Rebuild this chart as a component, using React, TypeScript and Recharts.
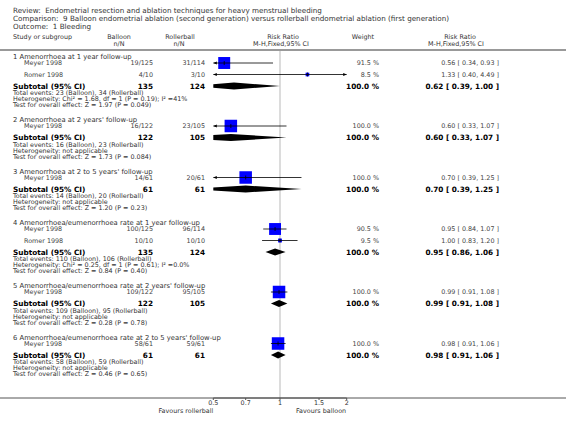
import React from "react";
import { ComposedChart, XAxis, YAxis, Line, Area, Scatter } from "recharts";

// Subgroups
const subgroupTitles = [
  "1 Amenorrhoea at 1 year follow-up",
  "2 Amenorrhoea at 2 years' follow-up",
  "3 Amenorrhoea at 2 to 5 years' follow-up",
  "4 Amenorrhoea/eumenorrhoea rate at 1 year follow-up",
  "5 Amenorrhoea/eumenorrhoea rate at 2 years' follow-up",
  "6 Amenorrhoea/eumenorrhoea rate at 2 to 5 years' follow-up",
];
const subBalloonN = [135, 122, 61, 135, 122, 61];
const subRollerN = [124, 105, 61, 124, 105, 61];
const subRR = [0.62, 0.6, 0.7, 0.95, 0.99, 0.98];
const subLow = [0.39, 0.33, 0.39, 0.86, 0.91, 0.91];
const subHigh = [1.0, 1.07, 1.25, 1.06, 1.08, 1.06];
const totalEvents = [
  "Total events: 23 (Balloon), 34 (Rollerball)",
  "Total events: 16 (Balloon), 23 (Rollerball)",
  "Total events: 14 (Balloon), 20 (Rollerball)",
  "Total events: 110 (Balloon), 106 (Rollerball)",
  "Total events: 109 (Balloon), 95 (Rollerball)",
  "Total events: 58 (Balloon), 59 (Rollerball)",
];
const heterogeneity = [
  "Heterogeneity: Chi² = 1.68, df = 1 (P = 0.19); I² =41%",
  "Heterogeneity: not applicable",
  "Heterogeneity: not applicable",
  "Heterogeneity: Chi² = 0.25, df = 1 (P = 0.61); I² =0.0%",
  "Heterogeneity: not applicable",
  "Heterogeneity: not applicable",
];
const overallEffect = [
  "Test for overall effect: Z = 1.97 (P = 0.049)",
  "Test for overall effect: Z = 1.73 (P = 0.084)",
  "Test for overall effect: Z = 1.20 (P = 0.23)",
  "Test for overall effect: Z = 0.84 (P = 0.40)",
  "Test for overall effect: Z = 0.28 (P = 0.78)",
  "Test for overall effect: Z = 0.46 (P = 0.65)",
];

// Studies
const studyGroup = [0, 0, 1, 2, 3, 3, 4, 5];
const studyNames = ["Meyer 1998", "Romer 1998", "Meyer 1998", "Meyer 1998", "Meyer 1998", "Romer 1998", "Meyer 1998", "Meyer 1998"];
const balloonEvents = ["19/125", "4/10", "16/122", "14/61", "100/125", "10/10", "109/122", "58/61"];
const rollerEvents = ["31/114", "3/10", "23/105", "20/61", "96/114", "10/10", "95/105", "59/61"];
const studyWeight = [91.5, 8.5, 100, 100, 90.5, 9.5, 100, 100];
const studyRR = [0.56, 1.33, 0.6, 0.7, 0.95, 1.0, 0.99, 0.98];
const studyLow = [0.34, 0.4, 0.33, 0.39, 0.84, 0.83, 0.91, 0.91];
const studyHigh = [0.93, 4.49, 1.07, 1.25, 1.07, 1.2, 1.08, 1.06];

const xTicks = [0.5, 0.7, 1, 1.5, 2];
const X_MIN = 0.5;
const X_MAX = 2;

// Layout
const W = 566;
const H = 429;
const AXIS_Y = 398;
const PLOT_LEFT = 213.3;
const PLOT_RIGHT = 346.7;
const FONT = "'DejaVu Sans', Verdana, sans-serif";
const FS = 6.4;
const FS_HEAD = 6.8;
const FS_TITLE = 7.2;
const FS_BOLD = 7.3;
const SQUARE_MAX = 12.5;
const DIAMOND_H = 3.5;

const COL_NAME = 13;
const COL_STUDY = 24;
const COL_BALLOON = 153;
const COL_ROLLER = 205;
const COL_WEIGHT = 379;
const COL_RR = 499;

const fmt = (v: number) => v.toFixed(2);
const ciText = (r: number, l: number, h: number) => `${fmt(r)} [ ${fmt(l)}, ${fmt(h)} ]`;

function buildLayout() {
  let y = 57;
  const groups = subgroupTitles.map((title, g) => {
    const heading = y;
    y += 6;
    const studies: number[] = [];
    studyGroup.forEach((sg, i) => {
      if (sg === g) {
        studies.push(i);
      }
    });
    const studyY = studies.map(() => {
      const sy = y;
      y += 11.5;
      return sy;
    });
    const subtotal = y;
    const total = subtotal + 7;
    const het = total + 6;
    const test = het + 6;
    y = test + 15;
    return { g, title, heading, studies, studyY, subtotal, total, het, test };
  });
  return groups;
}

const Square = (p: any) => {
  const s = SQUARE_MAX * Math.sqrt(p.payload.w / 100);
  return (
    <g>
      <rect x={p.cx - s / 2} y={p.cy - s / 2} width={s} height={s} fill="#0000ff" />
      <line x1={p.cx - s / 2} x2={p.cx + s / 2} y1={p.cy} y2={p.cy} stroke="#000" strokeWidth={0.8} />
      <line x1={p.cx} x2={p.cx} y1={p.cy - 2} y2={p.cy + 2} stroke="#000" strokeWidth={0.8} />
    </g>
  );
};

const Arrow = (p: any) => {
  const d = p.payload.dir;
  const pts = `${p.cx},${p.cy} ${p.cx - d * 3.5},${p.cy - 1.6} ${p.cx - d * 3.5},${p.cy + 1.6}`;
  return <polygon points={pts} fill="#000" />;
};

const T = (props: any) => {
  const { x, y, anchor, bold, color, size, children } = props;
  return (
    <text
      x={x}
      y={y}
      dy="0.35em"
      textAnchor={anchor || "start"}
      fontSize={size || (bold ? FS_BOLD : FS)}
      fontWeight={bold ? "bold" : "normal"}
      fill={color || (bold ? "#000" : "#333")}
      fontFamily={FONT}
    >
      {children}
    </text>
  );
};

export default function App() {
  const groups = buildLayout();
  const rowY: number[] = [];
  groups.forEach((gr) => gr.studies.forEach((i, k) => (rowY[i] = gr.studyY[k])));

  const squares = studyNames.map((_, i) => ({ x: studyRR[i], y: rowY[i], w: studyWeight[i] }));
  const arrows: { x: number; y: number; dir: number }[] = [];
  studyNames.forEach((_, i) => {
    if (studyLow[i] < X_MIN) arrows.push({ x: X_MIN, y: rowY[i], dir: -1 });
    if (studyHigh[i] > X_MAX) arrows.push({ x: X_MAX, y: rowY[i], dir: 1 });
  });

  return (
    <div style={{ position: "absolute", left: 0, top: 0, width: W, height: H, background: "#fff" }}>
      <ComposedChart width={W} height={H} margin={{ top: 0, right: W - PLOT_RIGHT, bottom: 0, left: PLOT_LEFT }}>
        <XAxis
          type="number"
          dataKey="x"
          scale="log"
          domain={[X_MIN, X_MAX]}
          allowDataOverflow
          ticks={xTicks}
          interval={0}
          height={H - AXIS_Y}
          tickSize={2}
          tickMargin={0}
          stroke="#555"
          tick={{ fontSize: FS, fill: "#333", fontFamily: FONT }}
        />
        <YAxis type="number" dataKey="y" domain={[0, AXIS_Y]} reversed hide allowDataOverflow />
        <Line
          data={[{ x: 1, y: 51 }, { x: 1, y: AXIS_Y }]}
          dataKey="y"
          stroke="#dcdcdc"
          strokeWidth={2}
          dot={false}
          isAnimationActive={false}
          zIndex={50}
        />
        {groups.map((gr) => (
          <Area
            key={`d-${gr.g}`}
            data={[
              { x: subLow[gr.g], band: [gr.subtotal, gr.subtotal] },
              { x: subRR[gr.g], band: [gr.subtotal - DIAMOND_H, gr.subtotal + DIAMOND_H] },
              { x: subHigh[gr.g], band: [gr.subtotal, gr.subtotal] },
            ]}
            dataKey="band"
            type="linear"
            stroke="none"
            fill="#000"
            fillOpacity={1}
            isAnimationActive={false}
            zIndex={100}
          />
        ))}
        {studyNames.map((_, i) => (
          <Line
            key={`ci-${i}`}
            data={[{ x: studyLow[i], y: rowY[i] }, { x: studyHigh[i], y: rowY[i] }]}
            dataKey="y"
            stroke="#000"
            strokeWidth={0.8}
            dot={false}
            isAnimationActive={false}
            zIndex={150}
          />
        ))}
        <Scatter data={squares} dataKey="y" shape={Square} isAnimationActive={false} zIndex={200} />
        <Scatter data={arrows} dataKey="y" shape={Arrow} isAnimationActive={false} zIndex={200} />
      </ComposedChart>

      <svg width={W} height={H} style={{ position: "absolute", left: 0, top: 0, pointerEvents: "none" }}>
        <T x={COL_NAME} y={10} size={FS_TITLE}>{"Review:\u00a0 Endometrial resection and ablation techniques for heavy menstrual bleeding"}</T>
        <T x={COL_NAME} y={18} size={FS_TITLE}>{"Comparison:\u00a0 9 Balloon endometrial ablation (second generation) versus rollerball endometrial ablation (first generation)"}</T>
        <T x={COL_NAME} y={26} size={FS_TITLE}>{"Outcome:\u00a0 1 Bleeding"}</T>

        <T x={COL_NAME} y={37}>Study or subgroup</T>
        <T x={119} y={37} anchor="middle">Balloon</T>
        <T x={119} y={44} anchor="middle">n/N</T>
        <T x={180} y={37} anchor="middle">Rollerball</T>
        <T x={179} y={44} anchor="middle">n/N</T>
        <T x={283} y={37} anchor="middle">Risk Ratio</T>
        <T x={281} y={44} anchor="middle">M-H,Fixed,95% CI</T>
        <T x={363} y={37} anchor="middle">Weight</T>
        <T x={460} y={37} anchor="middle">Risk Ratio</T>
        <T x={456} y={44} anchor="middle">M-H,Fixed,95% CI</T>
        <line x1={0} x2={W} y1={50} y2={50} stroke="#999" strokeWidth={2} />

        {groups.map((gr) => (
          <g key={`t-${gr.g}`}>
            <T x={COL_NAME} y={gr.heading} size={FS_HEAD}>{gr.title}</T>
            {gr.studies.map((i, k) => (
              <g key={`s-${i}`}>
                <T x={COL_STUDY} y={gr.studyY[k]} color="#444">{studyNames[i]}</T>
                <T x={COL_BALLOON} y={gr.studyY[k]} anchor="end" color="#444">{balloonEvents[i]}</T>
                <T x={COL_ROLLER} y={gr.studyY[k]} anchor="end" color="#444">{rollerEvents[i]}</T>
                <T x={COL_WEIGHT} y={gr.studyY[k]} anchor="end" color="#444">{`${studyWeight[i].toFixed(1)} %`}</T>
                <T x={COL_RR} y={gr.studyY[k]} anchor="end" color="#444">{ciText(studyRR[i], studyLow[i], studyHigh[i])}</T>
              </g>
            ))}
            <T x={COL_NAME} y={gr.subtotal} bold>Subtotal (95% CI)</T>
            <T x={COL_BALLOON} y={gr.subtotal} anchor="end" bold>{subBalloonN[gr.g]}</T>
            <T x={COL_ROLLER} y={gr.subtotal} anchor="end" bold>{subRollerN[gr.g]}</T>
            <T x={COL_WEIGHT} y={gr.subtotal} anchor="end" bold>100.0 %</T>
            <T x={COL_RR} y={gr.subtotal} anchor="end" bold>{ciText(subRR[gr.g], subLow[gr.g], subHigh[gr.g])}</T>
            <T x={COL_NAME} y={gr.total}>{totalEvents[gr.g]}</T>
            <T x={COL_NAME} y={gr.het}>{heterogeneity[gr.g]}</T>
            <T x={COL_NAME} y={gr.test}>{overallEffect[gr.g]}</T>
          </g>
        ))}

        <line x1={0} x2={W} y1={AXIS_Y} y2={AXIS_Y} stroke="#555" strokeWidth={1} />
        <T x={PLOT_LEFT} y={411} anchor="end">Favours rollerball</T>
        <T x={296} y={411}>Favours balloon</T>
      </svg>
    </div>
  );
}
